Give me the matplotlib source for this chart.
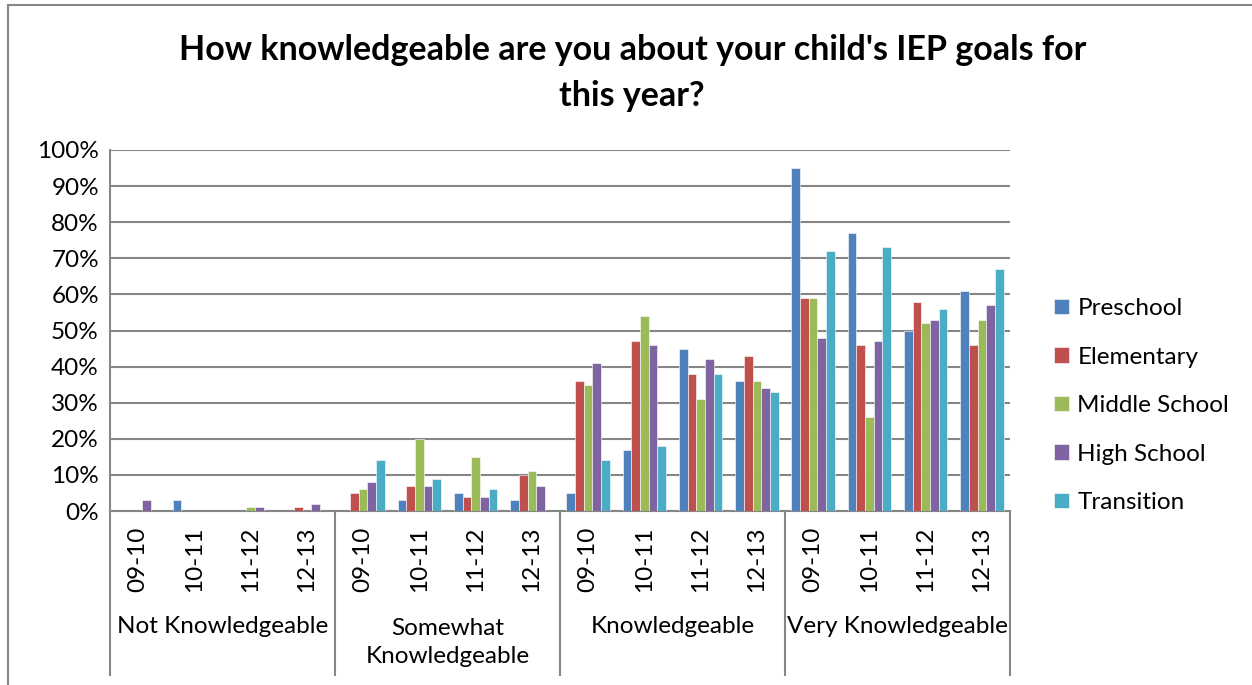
import matplotlib.pyplot as plt
from matplotlib.patches import Rectangle
from matplotlib.ticker import PercentFormatter
import numpy as np

plt.rcParams['font.family'] = ['Lato', 'DejaVu Sans']

groups = ["Not Knowledgeable", "Somewhat\nKnowledgeable", "Knowledgeable", "Very Knowledgeable"]
years = ["09-10", "10-11", "11-12", "12-13"]
series = ["Preschool", "Elementary", "Middle School", "High School", "Transition"]
colors = ["#4F81BD", "#C0504D", "#9BBB59", "#8064A2", "#4BACC6"]

# values per series, 16 categories (group x year)
preschool = [0, 3, 0, 0,   0, 3, 5, 3,    5, 17, 45, 36,   95, 77, 50, 61]
elementary = [0, 0, 0, 1,  5, 7, 4, 10,   36, 47, 38, 43,  59, 46, 58, 46]
middle = [0, 0, 1, 0,      6, 20, 15, 11, 35, 54, 31, 36,  59, 26, 52, 53]
high = [3, 0, 1, 2,        8, 7, 4, 7,    41, 46, 42, 34,  48, 47, 53, 57]
transition = [0, 0, 0, 0,  14, 9, 6, 0,   14, 18, 38, 33,  72, 73, 56, 67]
values = [preschool, elementary, middle, high, transition]

fig = plt.figure(figsize=(12.52, 6.85), dpi=100)
ax = fig.add_axes([110 / 1252, 174 / 685, 900 / 1252, 361 / 685])

n = len(groups) * len(years)
x = np.arange(n)
w = 0.154
for i, (name, vals, c) in enumerate(zip(series, values, colors)):
    ax.bar(x + (i - 2) * w, vals, width=w, color=c, label=name,
           edgecolor="white", linewidth=0.4, zorder=3)

ax.set_xlim(-0.5, n - 0.5)
ax.set_ylim(0, 100)
ax.set_yticks(np.arange(0, 101, 10))
ax.yaxis.set_major_formatter(PercentFormatter(decimals=0))
ax.grid(axis="y", color="#868686", linewidth=1.5, zorder=0)
ax.tick_params(axis="y", length=0, labelsize=17.5, pad=8)
ax.set_xticks([])
for s in ["top", "right"]:
    ax.spines[s].set_visible(False)
for s in ["left", "bottom"]:
    ax.spines[s].set_color("#868686")
    ax.spines[s].set_linewidth(1.5)

trans = ax.get_xaxis_transform()
for k in range(len(groups) + 1):
    ax.plot([k * 4 - 0.5] * 2, [0, -0.454], transform=trans, color="#868686",
            linewidth=1.5, clip_on=False)
for j in range(n):
    ax.text(j, -0.135, years[j % 4], transform=trans, rotation=90, ha="center",
            va="center", fontsize=17.5)
for k, g in enumerate(groups):
    yy = -0.364 if "\n" in g else -0.32
    ax.text(k * 4 + 1.5, yy, g, transform=trans, ha="center", va="center",
            fontsize=17.5, linespacing=1.45)

ax.legend(loc="center left", bbox_to_anchor=(1.025, 0.292), frameon=False,
          fontsize=17.5, handlelength=0.6, handleheight=0.6, handletextpad=0.35,
          labelspacing=1.13)

fig.text(0.505, 1 - 73 / 685, "How knowledgeable are you about your child's IEP goals for\nthis year?",
         ha="center", va="center", fontsize=24.5, fontweight="bold", linespacing=1.5)

fig.patches.append(Rectangle((8 / 1252, -0.1), 1.2, 1 - 5 / 685 + 0.1,
                             transform=fig.transFigure, fill=False,
                             edgecolor="#868686", linewidth=1.5))

fig.savefig("out.png", dpi=100)
